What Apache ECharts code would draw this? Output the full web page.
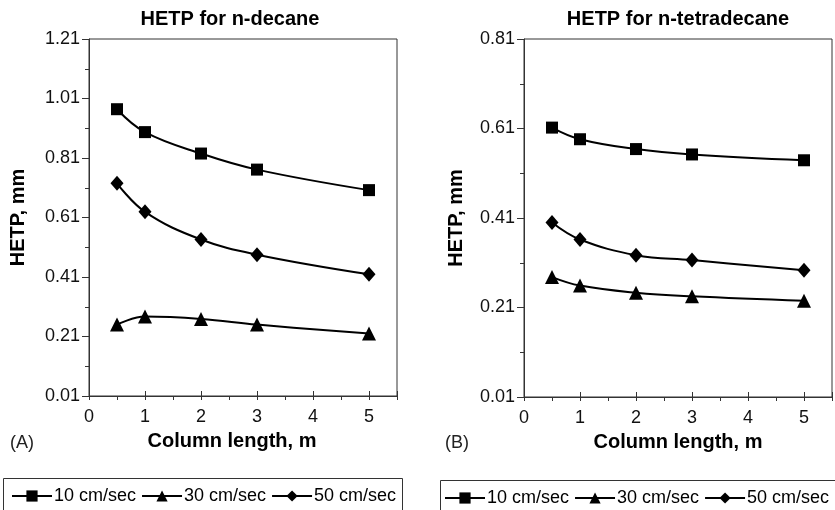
<!DOCTYPE html>
<html>
<head>
<meta charset="utf-8">
<script src="https://cdn.jsdelivr.net/npm/echarts@6/dist/echarts.min.js"></script>
<style>
  html, body { margin: 0; padding: 0; background: #fff; }
  #chart { width: 835px; height: 510px; }
</style>
</head>
<body>
<div id="chart"></div>
<script>
  // column length, m
  const columnLength = [0.5, 1, 2, 3, 5]
  const seriesNames = ['10 cm/sec', '30 cm/sec', '50 cm/sec']
  const seriesSymbols = ['rect', 'triangle', 'diamond']

  // HETP, mm (A) n-decane
  const decane10 = [0.974, 0.897, 0.825, 0.771, 0.702]
  const decane30 = [0.25, 0.277, 0.269, 0.25, 0.22]
  const decane50 = [0.725, 0.629, 0.536, 0.485, 0.419]

  // HETP, mm (B) n-tetradecane
  const tetra10 = [0.612, 0.586, 0.564, 0.552, 0.539]
  const tetra30 = [0.278, 0.259, 0.243, 0.235, 0.225]
  const tetra50 = [0.4, 0.362, 0.327, 0.316, 0.293]

  const titles = ['HETP for n-decane', 'HETP for n-tetradecane']
  const panelLabels = ['(A)', '(B)']
  const xTickLabels = [0, 1, 2, 3, 4, 5]

  const font = "'Liberation Sans', Arial, sans-serif"

  const pairs = (ys) => columnLength.map((x, i) => [x, ys[i]])

  const symbolSizes = { rect: 12, triangle: 14, diamond: [13, 15] }

  function makeSeries(values, axisIndex) {
    return values.map((ys, i) => ({
      name: seriesNames[i],
      type: 'line',
      xAxisIndex: axisIndex,
      yAxisIndex: axisIndex,
      data: pairs(ys),
      smooth: 0.4,
      symbol: seriesSymbols[i],
      symbolSize: symbolSizes[seriesSymbols[i]],
      showAllSymbol: true,
      color: '#000',
      itemStyle: { color: '#000' },
      lineStyle: { color: '#000', width: 2 },
      emphasis: { disabled: true },
    }))
  }

  function mainXAxis(gridIndex, nameRightPad) {
    return {
      type: 'value',
      gridIndex: gridIndex,
      position: 'bottom',
      min: 0,
      max: 5.5,
      interval: 0.5,
      name: 'Column length, m',
      nameLocation: 'middle',
      nameGap: 35,
      nameTextStyle: {
        fontFamily: font, fontSize: 20, fontWeight: 'bold', color: '#000',
        verticalAlign: 'top', padding: [0, nameRightPad, 0, 0],
      },
      axisLine: { show: true, lineStyle: { color: '#333', width: 1 } },
      axisTick: { show: true, inside: false, length: 4, lineStyle: { color: '#333' } },
      axisLabel: {
        margin: 12,
        fontFamily: font, fontSize: 18, color: '#111',
        formatter: (v) => (xTickLabels.indexOf(v) >= 0 ? String(v) : ''),
      },
      splitLine: { show: false },
    }
  }

  // second x axis on the same grid only for the integer ticks crossing into the plot
  function tickXAxis(gridIndex) {
    return {
      type: 'value',
      gridIndex: gridIndex,
      position: 'bottom',
      min: 0,
      max: 5.5,
      interval: 1,
      axisLine: { show: false },
      axisTick: { show: true, inside: true, length: 5, lineStyle: { color: '#333' } },
      axisLabel: { show: false },
      splitLine: { show: false },
    }
  }

  function yAxis(gridIndex, max, nameGap) {
    return {
      type: 'value',
      gridIndex: gridIndex,
      min: 0.01,
      max: max,
      interval: 0.2,
      name: 'HETP, mm',
      nameLocation: 'middle',
      nameGap: nameGap,
      nameTextStyle: { fontFamily: font, fontSize: 20, fontWeight: 'bold', color: '#000' },
      axisLine: { show: true, lineStyle: { color: '#333', width: 1 } },
      axisTick: { show: true, inside: false, length: 7, lineStyle: { color: '#333' } },
      minorTick: { show: true, splitNumber: 2, length: 4, lineStyle: { color: '#333' } },
      axisLabel: {
        margin: 9,
        fontFamily: font, fontSize: 18, color: '#111',
        formatter: (v) => v.toFixed(2),
      },
      splitLine: { show: false },
    }
  }

  function legend(left, top) {
    return {
      data: seriesNames,
      left: left,
      top: top,
      orient: 'horizontal',
      itemWidth: 40,
      itemHeight: 14,
      itemGap: 5,
      padding: 0,
      selectedMode: false,
      textStyle: { fontFamily: font, fontSize: 18, color: '#000', padding: [0, 0, 0, -3] },
    }
  }

  const chart = echarts.init(document.getElementById('chart'), null, { renderer: 'canvas' })

  chart.setOption({
    backgroundColor: '#fff',
    animation: false,
    title: [
      { text: titles[0], left: 230, top: 9, textAlign: 'center', padding: 0,
        textStyle: { fontFamily: font, fontSize: 20, fontWeight: 'bold', color: '#000' } },
      { text: titles[1], left: 678, top: 9, textAlign: 'center', padding: 0,
        textStyle: { fontFamily: font, fontSize: 20, fontWeight: 'bold', color: '#000' } },
    ],
    grid: [
      { left: 89, top: 39, width: 308, height: 357, show: true, borderColor: '#333', borderWidth: 1 },
      { left: 524, top: 39, width: 308, height: 358, show: true, borderColor: '#333', borderWidth: 1 },
    ],
    xAxis: [mainXAxis(0, 22), mainXAxis(1, 0), tickXAxis(0), tickXAxis(1)],
    yAxis: [yAxis(0, 1.21, 61), yAxis(1, 0.81, 58)],
    legend: [legend(11, 487), legend(444, 489)],
    graphic: [
      { type: 'rect', shape: { x: 3.5, y: 478.5, width: 399, height: 45 },
        style: { fill: 'none', stroke: '#333', lineWidth: 1 }, silent: true },
      { type: 'rect', shape: { x: 440.5, y: 480.5, width: 405, height: 45 },
        style: { fill: 'none', stroke: '#333', lineWidth: 1 }, silent: true },
      { type: 'text', left: 10, top: 434,
        style: { text: panelLabels[0], font: '18px ' + font, fill: '#222' } },
      { type: 'text', left: 445, top: 434,
        style: { text: panelLabels[1], font: '18px ' + font, fill: '#222' } },
    ],
    series: [
      ...makeSeries([decane10, decane30, decane50], 0),
      ...makeSeries([tetra10, tetra30, tetra50], 1),
    ],
  })
</script>
</body>
</html>
